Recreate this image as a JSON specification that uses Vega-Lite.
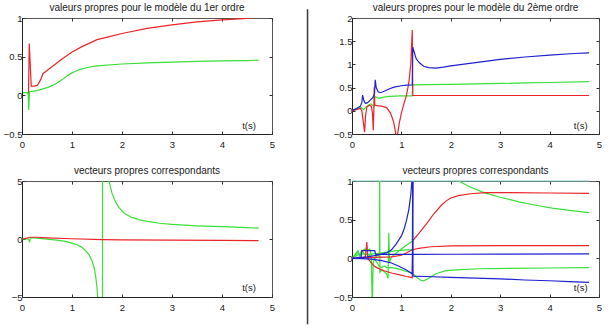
{
  "$schema": "https://vega.github.io/schema/vega-lite/v6.json",
  "padding": {"left": 2, "top": 2, "right": 0, "bottom": 0},
  "background": "white",
  "datasets": {
    "vp1": [
      {"k":"r","c":"rouge","t":0.13,"v":0.02},{"k":"r","c":"rouge","t":0.145,"v":0.67},{"k":"r","c":"rouge","t":0.185,"v":0.12},{"k":"r","c":"rouge","t":0.25,"v":0.12},{"k":"r","c":"rouge","t":0.31,"v":0.13},{"k":"r","c":"rouge","t":0.37,"v":0.2},{"k":"r","c":"rouge","t":0.42,"v":0.28},{"k":"r","c":"rouge","t":0.5,"v":0.32},{"k":"r","c":"rouge","t":0.6,"v":0.37},{"k":"r","c":"rouge","t":0.8,"v":0.47},{"k":"r","c":"rouge","t":1.0,"v":0.56},{"k":"r","c":"rouge","t":1.2,"v":0.63},{"k":"r","c":"rouge","t":1.5,"v":0.72},{"k":"r","c":"rouge","t":1.75,"v":0.76},{"k":"r","c":"rouge","t":2.0,"v":0.8},{"k":"r","c":"rouge","t":2.5,"v":0.865},{"k":"r","c":"rouge","t":3.0,"v":0.91},{"k":"r","c":"rouge","t":3.5,"v":0.95},{"k":"r","c":"rouge","t":4.0,"v":0.975},{"k":"r","c":"rouge","t":4.5,"v":0.995},{"k":"r","c":"rouge","t":4.73,"v":1.01},
      {"k":"g","c":"vert","t":0.02,"v":0.035},{"k":"g","c":"vert","t":0.11,"v":0.035},{"k":"g","c":"vert","t":0.125,"v":0.0},{"k":"g","c":"vert","t":0.135,"v":-0.19},{"k":"g","c":"vert","t":0.15,"v":0.045},{"k":"g","c":"vert","t":0.2,"v":0.05},{"k":"g","c":"vert","t":0.3,"v":0.06},{"k":"g","c":"vert","t":0.4,"v":0.08},{"k":"g","c":"vert","t":0.5,"v":0.1},{"k":"g","c":"vert","t":0.6,"v":0.125},{"k":"g","c":"vert","t":0.7,"v":0.16},{"k":"g","c":"vert","t":0.8,"v":0.2},{"k":"g","c":"vert","t":0.9,"v":0.25},{"k":"g","c":"vert","t":1.0,"v":0.29},{"k":"g","c":"vert","t":1.14,"v":0.33},{"k":"g","c":"vert","t":1.3,"v":0.36},{"k":"g","c":"vert","t":1.5,"v":0.38},{"k":"g","c":"vert","t":2.0,"v":0.405},{"k":"g","c":"vert","t":2.5,"v":0.42},{"k":"g","c":"vert","t":3.0,"v":0.43},{"k":"g","c":"vert","t":3.5,"v":0.44},{"k":"g","c":"vert","t":4.0,"v":0.445},{"k":"g","c":"vert","t":4.5,"v":0.45},{"k":"g","c":"vert","t":4.73,"v":0.455}
    ],
    "vp2": [
      {"k":"g","c":"vert","t":0,"v":0.0},{"k":"g","c":"vert","t":0.1,"v":0.06},{"k":"g","c":"vert","t":0.16,"v":0.09},{"k":"g","c":"vert","t":0.2,"v":0.05},{"k":"g","c":"vert","t":0.24,"v":0.03},{"k":"g","c":"vert","t":0.28,"v":0.08},{"k":"g","c":"vert","t":0.33,"v":0.12},{"k":"g","c":"vert","t":0.38,"v":0.15},{"k":"g","c":"vert","t":0.42,"v":0.12},{"k":"g","c":"vert","t":0.455,"v":0.1},{"k":"g","c":"vert","t":0.46,"v":0.31},{"k":"g","c":"vert","t":0.5,"v":0.29},{"k":"g","c":"vert","t":0.55,"v":0.27},{"k":"g","c":"vert","t":0.62,"v":0.29},{"k":"g","c":"vert","t":0.75,"v":0.31},{"k":"g","c":"vert","t":1.0,"v":0.32},{"k":"g","c":"vert","t":1.22,"v":0.32},{"k":"g","c":"vert","t":1.23,"v":0.56},{"k":"g","c":"vert","t":1.5,"v":0.565},{"k":"g","c":"vert","t":2.0,"v":0.57},{"k":"g","c":"vert","t":2.5,"v":0.58},{"k":"g","c":"vert","t":3.0,"v":0.59},{"k":"g","c":"vert","t":3.5,"v":0.6},{"k":"g","c":"vert","t":4.0,"v":0.61},{"k":"g","c":"vert","t":4.8,"v":0.63},
      {"k":"r","c":"rouge","t":0,"v":0.0},{"k":"r","c":"rouge","t":0.1,"v":0.03},{"k":"r","c":"rouge","t":0.17,"v":0.05},{"k":"r","c":"rouge","t":0.2,"v":0.0},{"k":"r","c":"rouge","t":0.23,"v":-0.25},{"k":"r","c":"rouge","t":0.255,"v":-0.46},{"k":"r","c":"rouge","t":0.275,"v":-0.1},{"k":"r","c":"rouge","t":0.3,"v":0.08},{"k":"r","c":"rouge","t":0.35,"v":0.12},{"k":"r","c":"rouge","t":0.39,"v":0.1},{"k":"r","c":"rouge","t":0.415,"v":-0.05},{"k":"r","c":"rouge","t":0.43,"v":-0.42},{"k":"r","c":"rouge","t":0.44,"v":-0.1},{"k":"r","c":"rouge","t":0.45,"v":0.5},{"k":"r","c":"rouge","t":0.46,"v":0.13},{"k":"r","c":"rouge","t":0.5,"v":0.11},{"k":"r","c":"rouge","t":0.6,"v":0.1},{"k":"r","c":"rouge","t":0.7,"v":0.07},{"k":"r","c":"rouge","t":0.78,"v":-0.05},{"k":"r","c":"rouge","t":0.84,"v":-0.23},{"k":"r","c":"rouge","t":0.88,"v":-0.45},{"k":"r","c":"rouge","t":0.9,"v":-0.65},{"k":"r","c":"rouge","t":0.93,"v":-0.45},{"k":"r","c":"rouge","t":0.96,"v":-0.25},{"k":"r","c":"rouge","t":1.0,"v":-0.05},{"k":"r","c":"rouge","t":1.05,"v":0.15},{"k":"r","c":"rouge","t":1.1,"v":0.32},{"k":"r","c":"rouge","t":1.15,"v":0.6},{"k":"r","c":"rouge","t":1.19,"v":1.0},{"k":"r","c":"rouge","t":1.22,"v":1.74},{"k":"r","c":"rouge","t":1.23,"v":0.33},{"k":"r","c":"rouge","t":2.0,"v":0.33},{"k":"r","c":"rouge","t":3.0,"v":0.33},{"k":"r","c":"rouge","t":4.0,"v":0.33},{"k":"r","c":"rouge","t":4.8,"v":0.33},
      {"k":"b","c":"bleu","t":0,"v":0.01},{"k":"b","c":"bleu","t":0.1,"v":0.05},{"k":"b","c":"bleu","t":0.17,"v":0.1},{"k":"b","c":"bleu","t":0.2,"v":0.18},{"k":"b","c":"bleu","t":0.215,"v":0.34},{"k":"b","c":"bleu","t":0.24,"v":0.22},{"k":"b","c":"bleu","t":0.27,"v":0.16},{"k":"b","c":"bleu","t":0.31,"v":0.17},{"k":"b","c":"bleu","t":0.36,"v":0.22},{"k":"b","c":"bleu","t":0.42,"v":0.28},{"k":"b","c":"bleu","t":0.455,"v":0.36},{"k":"b","c":"bleu","t":0.47,"v":0.67},{"k":"b","c":"bleu","t":0.49,"v":0.5},{"k":"b","c":"bleu","t":0.53,"v":0.41},{"k":"b","c":"bleu","t":0.58,"v":0.39},{"k":"b","c":"bleu","t":0.65,"v":0.42},{"k":"b","c":"bleu","t":0.75,"v":0.47},{"k":"b","c":"bleu","t":0.85,"v":0.51},{"k":"b","c":"bleu","t":1.0,"v":0.54},{"k":"b","c":"bleu","t":1.1,"v":0.555},{"k":"b","c":"bleu","t":1.22,"v":0.56},{"k":"b","c":"bleu","t":1.23,"v":1.37},{"k":"b","c":"bleu","t":1.3,"v":1.12},{"k":"b","c":"bleu","t":1.36,"v":1.04},{"k":"b","c":"bleu","t":1.45,"v":0.96},{"k":"b","c":"bleu","t":1.55,"v":0.93},{"k":"b","c":"bleu","t":1.7,"v":0.92},{"k":"b","c":"bleu","t":1.85,"v":0.94},{"k":"b","c":"bleu","t":2.0,"v":0.97},{"k":"b","c":"bleu","t":2.5,"v":1.04},{"k":"b","c":"bleu","t":3.0,"v":1.11},{"k":"b","c":"bleu","t":3.5,"v":1.16},{"k":"b","c":"bleu","t":4.0,"v":1.2},{"k":"b","c":"bleu","t":4.5,"v":1.235},{"k":"b","c":"bleu","t":4.8,"v":1.25}
    ],
    "vect1": [
      {"k":"g","c":"vert","t":0,"v":0.0},{"k":"g","c":"vert","t":0.12,"v":0.0},{"k":"g","c":"vert","t":0.14,"v":-0.1},{"k":"g","c":"vert","t":0.15,"v":-0.3},{"k":"g","c":"vert","t":0.165,"v":0.12},{"k":"g","c":"vert","t":0.25,"v":0.1},{"k":"g","c":"vert","t":0.4,"v":0.03},{"k":"g","c":"vert","t":0.55,"v":-0.03},{"k":"g","c":"vert","t":0.7,"v":-0.1},{"k":"g","c":"vert","t":0.87,"v":-0.2},{"k":"g","c":"vert","t":1.0,"v":-0.35},{"k":"g","c":"vert","t":1.1,"v":-0.5},{"k":"g","c":"vert","t":1.2,"v":-0.72},{"k":"g","c":"vert","t":1.28,"v":-1.05},{"k":"g","c":"vert","t":1.34,"v":-1.35},{"k":"g","c":"vert","t":1.4,"v":-1.9},{"k":"g","c":"vert","t":1.44,"v":-2.4},{"k":"g","c":"vert","t":1.47,"v":-3.1},{"k":"g","c":"vert","t":1.5,"v":-4.2},{"k":"g","c":"vert","t":1.52,"v":-5.3},{"k":"g","c":"vert","t":1.56,"v":-8},{"k":"g","c":"vert","t":1.605,"v":-60},{"k":"g","c":"vert","t":1.615,"v":60},{"k":"g","c":"vert","t":1.68,"v":9},{"k":"g","c":"vert","t":1.74,"v":5.0},{"k":"g","c":"vert","t":1.8,"v":3.95},{"k":"g","c":"vert","t":1.87,"v":3.2},{"k":"g","c":"vert","t":1.94,"v":2.7},{"k":"g","c":"vert","t":2.05,"v":2.2},{"k":"g","c":"vert","t":2.2,"v":1.86},{"k":"g","c":"vert","t":2.35,"v":1.65},{"k":"g","c":"vert","t":2.54,"v":1.49},{"k":"g","c":"vert","t":2.75,"v":1.36},{"k":"g","c":"vert","t":3.0,"v":1.26},{"k":"g","c":"vert","t":3.5,"v":1.14},{"k":"g","c":"vert","t":4.0,"v":1.06},{"k":"g","c":"vert","t":4.5,"v":0.98},{"k":"g","c":"vert","t":4.73,"v":0.94},
      {"k":"r","c":"rouge","t":0,"v":0.0},{"k":"r","c":"rouge","t":0.1,"v":0.08},{"k":"r","c":"rouge","t":0.15,"v":0.15},{"k":"r","c":"rouge","t":0.3,"v":0.15},{"k":"r","c":"rouge","t":0.5,"v":0.1},{"k":"r","c":"rouge","t":1.0,"v":0.02},{"k":"r","c":"rouge","t":1.6,"v":-0.05},{"k":"r","c":"rouge","t":2.0,"v":-0.07},{"k":"r","c":"rouge","t":3.0,"v":-0.1},{"k":"r","c":"rouge","t":4.0,"v":-0.12},{"k":"r","c":"rouge","t":4.73,"v":-0.14}
    ],
    "vect2": [
      {"k":"g1","c":"vert","t":0,"v":0},{"k":"g1","c":"vert","t":0.08,"v":0.05},{"k":"g1","c":"vert","t":0.12,"v":0.1},{"k":"g1","c":"vert","t":0.15,"v":0.02},{"k":"g1","c":"vert","t":0.2,"v":0.08},{"k":"g1","c":"vert","t":0.25,"v":0.12},{"k":"g1","c":"vert","t":0.3,"v":0.1},{"k":"g1","c":"vert","t":0.36,"v":0.12},{"k":"g1","c":"vert","t":0.39,"v":0.05},{"k":"g1","c":"vert","t":0.41,"v":-0.6},{"k":"g1","c":"vert","t":0.43,"v":-0.05},{"k":"g1","c":"vert","t":0.48,"v":0.02},{"k":"g1","c":"vert","t":0.54,"v":0.05},{"k":"g1","c":"vert","t":0.555,"v":0.0},{"k":"g1","c":"vert","t":0.56,"v":1.3},{"k":"g1","c":"vert","t":0.565,"v":-0.18},{"k":"g1","c":"vert","t":0.6,"v":-0.15},{"k":"g1","c":"vert","t":0.65,"v":-0.17},{"k":"g1","c":"vert","t":0.7,"v":-0.2},{"k":"g1","c":"vert","t":0.73,"v":-0.26},{"k":"g1","c":"vert","t":0.745,"v":0.33},{"k":"g1","c":"vert","t":0.76,"v":-0.05},{"k":"g1","c":"vert","t":0.8,"v":0.02},{"k":"g1","c":"vert","t":0.9,"v":0.07},{"k":"g1","c":"vert","t":1.0,"v":0.12},{"k":"g1","c":"vert","t":1.1,"v":0.17},{"k":"g1","c":"vert","t":1.22,"v":0.22},{"k":"g1","c":"vert","t":1.235,"v":1.6},{"k":"g1","c":"vert","t":2.16,"v":1.0},{"k":"g1","c":"vert","t":2.4,"v":0.92},{"k":"g1","c":"vert","t":2.67,"v":0.85},{"k":"g1","c":"vert","t":3.0,"v":0.79},{"k":"g1","c":"vert","t":3.38,"v":0.73},{"k":"g1","c":"vert","t":3.7,"v":0.69},{"k":"g1","c":"vert","t":4.05,"v":0.65},{"k":"g1","c":"vert","t":4.4,"v":0.62},{"k":"g1","c":"vert","t":4.8,"v":0.59},
      {"k":"g2","c":"vert","t":0,"v":0},{"k":"g2","c":"vert","t":0.1,"v":0.08},{"k":"g2","c":"vert","t":0.15,"v":0.05},{"k":"g2","c":"vert","t":0.2,"v":0.1},{"k":"g2","c":"vert","t":0.25,"v":0.06},{"k":"g2","c":"vert","t":0.35,"v":0.04},{"k":"g2","c":"vert","t":0.45,"v":0.0},{"k":"g2","c":"vert","t":0.5,"v":-0.05},{"k":"g2","c":"vert","t":0.55,"v":-0.1},{"k":"g2","c":"vert","t":0.6,"v":-0.12},{"k":"g2","c":"vert","t":0.66,"v":-0.1},{"k":"g2","c":"vert","t":0.7,"v":-0.12},{"k":"g2","c":"vert","t":0.8,"v":-0.12},{"k":"g2","c":"vert","t":0.9,"v":-0.13},{"k":"g2","c":"vert","t":1.0,"v":-0.15},{"k":"g2","c":"vert","t":1.1,"v":-0.17},{"k":"g2","c":"vert","t":1.22,"v":-0.19},{"k":"g2","c":"vert","t":1.3,"v":-0.24},{"k":"g2","c":"vert","t":1.38,"v":-0.28},{"k":"g2","c":"vert","t":1.45,"v":-0.29},{"k":"g2","c":"vert","t":1.55,"v":-0.26},{"k":"g2","c":"vert","t":1.7,"v":-0.2},{"k":"g2","c":"vert","t":1.9,"v":-0.16},{"k":"g2","c":"vert","t":2.2,"v":-0.145},{"k":"g2","c":"vert","t":2.6,"v":-0.135},{"k":"g2","c":"vert","t":3.2,"v":-0.13},{"k":"g2","c":"vert","t":4.0,"v":-0.125},{"k":"g2","c":"vert","t":4.8,"v":-0.12},
      {"k":"g3","c":"vert","t":0,"v":0},{"k":"g3","c":"vert","t":0.15,"v":0.06},{"k":"g3","c":"vert","t":0.3,"v":0.05},{"k":"g3","c":"vert","t":0.5,"v":0.06},{"k":"g3","c":"vert","t":0.7,"v":0.08},{"k":"g3","c":"vert","t":0.9,"v":0.1},{"k":"g3","c":"vert","t":1.1,"v":0.11},{"k":"g3","c":"vert","t":1.22,"v":0.11},
      {"k":"r1","c":"rouge","t":0,"v":0},{"k":"r1","c":"rouge","t":0.2,"v":0.0},{"k":"r1","c":"rouge","t":0.27,"v":0.02},{"k":"r1","c":"rouge","t":0.3,"v":0.21},{"k":"r1","c":"rouge","t":0.32,"v":0.0},{"k":"r1","c":"rouge","t":0.38,"v":-0.05},{"k":"r1","c":"rouge","t":0.45,"v":-0.1},{"k":"r1","c":"rouge","t":0.5,"v":-0.12},{"k":"r1","c":"rouge","t":0.57,"v":-0.14},{"k":"r1","c":"rouge","t":0.65,"v":-0.16},{"k":"r1","c":"rouge","t":0.8,"v":-0.19},{"k":"r1","c":"rouge","t":0.95,"v":-0.21},{"k":"r1","c":"rouge","t":1.1,"v":-0.235},{"k":"r1","c":"rouge","t":1.22,"v":-0.25},{"k":"r1","c":"rouge","t":1.23,"v":0.23},{"k":"r1","c":"rouge","t":1.35,"v":0.32},{"k":"r1","c":"rouge","t":1.5,"v":0.44},{"k":"r1","c":"rouge","t":1.65,"v":0.57},{"k":"r1","c":"rouge","t":1.8,"v":0.68},{"k":"r1","c":"rouge","t":1.9,"v":0.74},{"k":"r1","c":"rouge","t":2.0,"v":0.78},{"k":"r1","c":"rouge","t":2.15,"v":0.81},{"k":"r1","c":"rouge","t":2.4,"v":0.835},{"k":"r1","c":"rouge","t":2.7,"v":0.85},{"k":"r1","c":"rouge","t":3.2,"v":0.85},{"k":"r1","c":"rouge","t":4.0,"v":0.845},{"k":"r1","c":"rouge","t":4.8,"v":0.84},
      {"k":"r2","c":"rouge","t":0,"v":0},{"k":"r2","c":"rouge","t":0.3,"v":0.01},{"k":"r2","c":"rouge","t":0.6,"v":0.015},{"k":"r2","c":"rouge","t":0.8,"v":0.02},{"k":"r2","c":"rouge","t":1.0,"v":0.04},{"k":"r2","c":"rouge","t":1.1,"v":0.07},{"k":"r2","c":"rouge","t":1.22,"v":0.11},{"k":"r2","c":"rouge","t":1.35,"v":0.13},{"k":"r2","c":"rouge","t":1.6,"v":0.15},{"k":"r2","c":"rouge","t":2.0,"v":0.16},{"k":"r2","c":"rouge","t":3.0,"v":0.165},{"k":"r2","c":"rouge","t":4.8,"v":0.165},
      {"k":"b1","c":"bleu","t":0,"v":0},{"k":"b1","c":"bleu","t":0.3,"v":0.02},{"k":"b1","c":"bleu","t":0.5,"v":0.04},{"k":"b1","c":"bleu","t":0.7,"v":0.07},{"k":"b1","c":"bleu","t":0.8,"v":0.11},{"k":"b1","c":"bleu","t":0.9,"v":0.19},{"k":"b1","c":"bleu","t":1.0,"v":0.29},{"k":"b1","c":"bleu","t":1.05,"v":0.37},{"k":"b1","c":"bleu","t":1.1,"v":0.48},{"k":"b1","c":"bleu","t":1.15,"v":0.63},{"k":"b1","c":"bleu","t":1.19,"v":0.82},{"k":"b1","c":"bleu","t":1.225,"v":1.1},{"k":"b1","c":"bleu","t":1.235,"v":-0.23},{"k":"b1","c":"bleu","t":1.5,"v":-0.235},{"k":"b1","c":"bleu","t":2.0,"v":-0.245},{"k":"b1","c":"bleu","t":2.5,"v":-0.255},{"k":"b1","c":"bleu","t":3.0,"v":-0.265},{"k":"b1","c":"bleu","t":3.5,"v":-0.28},{"k":"b1","c":"bleu","t":4.0,"v":-0.29},{"k":"b1","c":"bleu","t":4.4,"v":-0.3},{"k":"b1","c":"bleu","t":4.8,"v":-0.31},
      {"k":"b2","c":"bleu","t":0,"v":0},{"k":"b2","c":"bleu","t":0.18,"v":0.0},{"k":"b2","c":"bleu","t":0.2,"v":0.1},{"k":"b2","c":"bleu","t":0.46,"v":0.1},{"k":"b2","c":"bleu","t":0.48,"v":0.05},{"k":"b2","c":"bleu","t":0.8,"v":0.05},{"k":"b2","c":"bleu","t":1.22,"v":0.05},{"k":"b2","c":"bleu","t":2.0,"v":0.053},{"k":"b2","c":"bleu","t":3.0,"v":0.055},{"k":"b2","c":"bleu","t":4.8,"v":0.057},
      {"k":"b3","c":"bleu","t":0,"v":0},{"k":"b3","c":"bleu","t":0.2,"v":-0.005},{"k":"b3","c":"bleu","t":0.4,"v":-0.01},{"k":"b3","c":"bleu","t":0.6,"v":-0.03},{"k":"b3","c":"bleu","t":0.8,"v":-0.06},{"k":"b3","c":"bleu","t":0.94,"v":-0.1},{"k":"b3","c":"bleu","t":1.1,"v":-0.15},{"k":"b3","c":"bleu","t":1.22,"v":-0.2},{"k":"b3","c":"bleu","t":1.235,"v":1.0}
    ],
    "normalisee": [
      {"k":"c","c":"cyan","t":0,"v":1},{"k":"c","c":"cyan","t":4.8,"v":1}
    ]
  },
  "columns": 2,
  "bounds": "flush",
  "spacing": {"row": 47, "column": 80},
  "concat": [
    {
      "width": 250, "height": 116,
      "title": {"text": "valeurs propres pour le modèle du 1er ordre", "offset": 0},
      "layer": [
        {
          "data": {"name": "vp1"},
          "mark": {"type": "line", "clip": true, "strokeWidth": 1.2},
          "encoding": {
            "x": {"field": "t", "type": "quantitative", "scale": {"domain": [0, 5], "nice": false}, "axis": {"orient": "bottom", "values": [0,1,2,3,4,5], "format": "~g"}},
            "y": {"field": "v", "type": "quantitative", "scale": {"domain": [-0.5, 1], "nice": false, "zero": false}, "axis": {"orient": "left", "values": [-0.5,0,0.5,1], "format": "~g"}},
            "color": {"field": "c", "type": "nominal", "scale": {"domain": ["rouge","vert","bleu","cyan"], "range": ["#ea2428","#38e038","#2020d0","#80c8bd"]}, "legend": null},
            "detail": {"field": "k"}
          }
        },
        {
          "data": {"values": [{"t": 4.54, "v": -0.4, "etiquette": "t(s)"}]},
          "mark": {"type": "text", "font": "Liberation Sans", "fontSize": 9.5, "color": "#1a1a1a"},
          "encoding": {
            "x": {"field": "t", "type": "quantitative", "scale": {"domain": [0, 5], "nice": false}, "axis": {"orient": "top", "values": [0,1,2,3,4,5], "labels": false, "domain": false, "labelPadding": 0}},
            "y": {"field": "v", "type": "quantitative", "scale": {"domain": [-0.5, 1], "nice": false, "zero": false}, "axis": {"orient": "right", "values": [-0.5,0,0.5,1], "labels": false, "domain": false, "labelPadding": 0}},
            "text": {"field": "etiquette"}
          }
        }
      ],
      "resolve": {"axis": {"x": "independent", "y": "independent"}}
    },
    {
      "width": 247, "height": 116,
      "title": {"text": "valeurs propres pour le modèle du 2ème ordre", "offset": -5},
      "layer": [
        {
          "data": {"name": "vp2"},
          "mark": {"type": "line", "clip": true, "strokeWidth": 1.2},
          "encoding": {
            "x": {"field": "t", "type": "quantitative", "scale": {"domain": [0, 5], "nice": false}, "axis": {"orient": "bottom", "values": [0,1,2,3,4,5], "format": "~g"}},
            "y": {"field": "v", "type": "quantitative", "scale": {"domain": [-0.5, 2], "nice": false, "zero": false}, "axis": {"orient": "left", "values": [-0.5,0,0.5,1,1.5,2], "format": "~g"}},
            "color": {"field": "c", "type": "nominal", "scale": {"domain": ["rouge","vert","bleu","cyan"], "range": ["#ea2428","#38e038","#2020d0","#80c8bd"]}, "legend": null},
            "detail": {"field": "k"}
          }
        },
        {
          "data": {"values": [{"t": 4.63, "v": -0.32, "etiquette": "t(s)"}]},
          "mark": {"type": "text", "font": "Liberation Sans", "fontSize": 9.5, "color": "#1a1a1a"},
          "encoding": {
            "x": {"field": "t", "type": "quantitative", "scale": {"domain": [0, 5], "nice": false}, "axis": {"orient": "top", "values": [0,1,2,3,4,5], "labels": false, "domain": false, "labelPadding": 0}},
            "y": {"field": "v", "type": "quantitative", "scale": {"domain": [-0.5, 2], "nice": false, "zero": false}, "axis": {"orient": "right", "values": [-0.5,0,0.5,1,1.5,2], "labels": false, "domain": false, "labelPadding": 0}},
            "text": {"field": "etiquette"}
          }
        },
        {
          "data": {"values": [{"t": -0.9, "haut": 2.19, "bas": -4.6}]},
          "mark": {"type": "rule", "clip": false, "color": "#3a3a3a", "strokeWidth": 1.5},
          "encoding": {
            "x": {"field": "t", "type": "quantitative", "scale": {"domain": [0, 5], "nice": false}, "axis": null},
            "y": {"field": "haut", "type": "quantitative", "scale": {"domain": [-0.5, 2], "nice": false, "zero": false}, "axis": null},
            "y2": {"field": "bas"}
          }
        }
      ],
      "resolve": {"axis": {"x": "independent", "y": "independent"}}
    },
    {
      "width": 250, "height": 116,
      "title": {"text": "vecteurs propres correspondants", "offset": 0},
      "layer": [
        {
          "data": {"name": "vect1"},
          "mark": {"type": "line", "clip": true, "strokeWidth": 1.2},
          "encoding": {
            "x": {"field": "t", "type": "quantitative", "scale": {"domain": [0, 5], "nice": false}, "axis": {"orient": "bottom", "values": [0,1,2,3,4,5], "format": "~g"}},
            "y": {"field": "v", "type": "quantitative", "scale": {"domain": [-5, 5], "nice": false, "zero": false}, "axis": {"orient": "left", "values": [-5,0,5], "format": "~g"}},
            "color": {"field": "c", "type": "nominal", "scale": {"domain": ["rouge","vert","bleu","cyan"], "range": ["#ea2428","#38e038","#2020d0","#80c8bd"]}, "legend": null},
            "detail": {"field": "k"}
          }
        },
        {
          "data": {"values": [{"t": 4.54, "v": -4.2, "etiquette": "t(s)"}]},
          "mark": {"type": "text", "font": "Liberation Sans", "fontSize": 9.5, "color": "#1a1a1a"},
          "encoding": {
            "x": {"field": "t", "type": "quantitative", "scale": {"domain": [0, 5], "nice": false}, "axis": {"orient": "top", "values": [0,1,2,3,4,5], "labels": false, "domain": false, "labelPadding": 0}},
            "y": {"field": "v", "type": "quantitative", "scale": {"domain": [-5, 5], "nice": false, "zero": false}, "axis": {"orient": "right", "values": [-5,0,5], "labels": false, "domain": false, "labelPadding": 0}},
            "text": {"field": "etiquette"}
          }
        }
      ],
      "resolve": {"axis": {"x": "independent", "y": "independent"}}
    },
    {
      "width": 247, "height": 116,
      "title": {"text": "vecteurs propres correspondants", "offset": 0},
      "layer": [
        {
          "data": {"name": "vect2"},
          "mark": {"type": "line", "clip": true, "strokeWidth": 1.2},
          "encoding": {
            "x": {"field": "t", "type": "quantitative", "scale": {"domain": [0, 5], "nice": false}, "axis": {"orient": "bottom", "values": [0,1,2,3,4,5], "format": "~g"}},
            "y": {"field": "v", "type": "quantitative", "scale": {"domain": [-0.5, 1], "nice": false, "zero": false}, "axis": {"orient": "left", "values": [-0.5,0,0.5,1], "format": "~g"}},
            "color": {"field": "c", "type": "nominal", "scale": {"domain": ["rouge","vert","bleu","cyan"], "range": ["#ea2428","#38e038","#2020d0","#80c8bd"]}, "legend": null},
            "detail": {"field": "k"}
          }
        },
        {
          "data": {"values": [{"t": 4.63, "v": -0.39, "etiquette": "t(s)"}]},
          "mark": {"type": "text", "font": "Liberation Sans", "fontSize": 9.5, "color": "#1a1a1a"},
          "encoding": {
            "x": {"field": "t", "type": "quantitative", "scale": {"domain": [0, 5], "nice": false}, "axis": {"orient": "top", "values": [0,1,2,3,4,5], "labels": false, "domain": false, "labelPadding": 0}},
            "y": {"field": "v", "type": "quantitative", "scale": {"domain": [-0.5, 1], "nice": false, "zero": false}, "axis": {"orient": "right", "values": [-0.5,0,0.5,1], "labels": false, "domain": false, "labelPadding": 0}},
            "text": {"field": "etiquette"}
          }
        },
        {
          "data": {"name": "normalisee"},
          "mark": {"type": "line", "clip": false, "strokeWidth": 1.2},
          "encoding": {
            "x": {"field": "t", "type": "quantitative", "scale": {"domain": [0, 5], "nice": false}, "axis": null},
            "y": {"field": "v", "type": "quantitative", "scale": {"domain": [-0.5, 1], "nice": false, "zero": false}, "axis": null},
            "color": {"field": "c", "type": "nominal", "scale": {"domain": ["rouge","vert","bleu","cyan"], "range": ["#ea2428","#38e038","#2020d0","#80c8bd"]}, "legend": null}
          }
        }
      ],
      "resolve": {"axis": {"x": "independent", "y": "independent"}}
    }
  ],
  "config": {
    "font": "Liberation Sans",
    "view": {"stroke": "#555555", "strokeWidth": 1},
    "axis": {
      "title": null,
      "grid": false,
      "labelFont": "Liberation Sans",
      "labelFontSize": 9.5,
      "labelColor": "#1a1a1a",
      "labelFlush": false,
      "labelOverlap": false,
      "labelBound": false,
      "tickColor": "#333333",
      "tickSize": -3,
      "tickWidth": 1,
      "domainColor": "#222222",
      "domainWidth": 1
    },
    "axisBottom": {"labelPadding": 8},
    "axisLeft": {"labelPadding": 3},
    "title": {"font": "Liberation Sans", "fontSize": 10, "fontWeight": "normal", "color": "#1a1a1a"}
  }
}
